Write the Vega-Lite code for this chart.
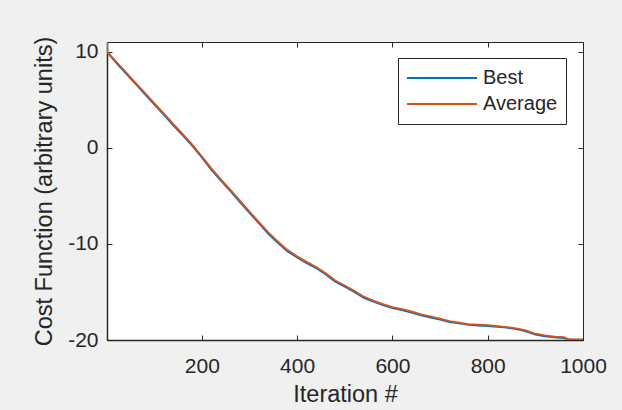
{
  "$schema": "https://vega.github.io/schema/vega-lite/v6.json",
  "width": 476,
  "height": 298,
  "autosize": {"type": "none"},
  "padding": {"left": 107, "top": 42, "right": 39, "bottom": 70},
  "background": "#f0f0f0",
  "data": {
    "values": [
      {"iteration": 1, "series": "Best", "cost": 10.0},
      {"iteration": 2, "series": "Best", "cost": 9.9},
      {"iteration": 20, "series": "Best", "cost": 8.85},
      {"iteration": 40, "series": "Best", "cost": 7.75},
      {"iteration": 60, "series": "Best", "cost": 6.7},
      {"iteration": 80, "series": "Best", "cost": 5.6},
      {"iteration": 100, "series": "Best", "cost": 4.52},
      {"iteration": 120, "series": "Best", "cost": 3.45},
      {"iteration": 140, "series": "Best", "cost": 2.33},
      {"iteration": 160, "series": "Best", "cost": 1.28},
      {"iteration": 180, "series": "Best", "cost": 0.2},
      {"iteration": 200, "series": "Best", "cost": -1.0},
      {"iteration": 220, "series": "Best", "cost": -2.3},
      {"iteration": 240, "series": "Best", "cost": -3.42},
      {"iteration": 260, "series": "Best", "cost": -4.52},
      {"iteration": 280, "series": "Best", "cost": -5.65},
      {"iteration": 300, "series": "Best", "cost": -6.78},
      {"iteration": 320, "series": "Best", "cost": -7.88},
      {"iteration": 340, "series": "Best", "cost": -8.98},
      {"iteration": 360, "series": "Best", "cost": -9.92},
      {"iteration": 380, "series": "Best", "cost": -10.8},
      {"iteration": 400, "series": "Best", "cost": -11.42},
      {"iteration": 420, "series": "Best", "cost": -12.0},
      {"iteration": 440, "series": "Best", "cost": -12.52},
      {"iteration": 460, "series": "Best", "cost": -13.18},
      {"iteration": 480, "series": "Best", "cost": -13.95},
      {"iteration": 500, "series": "Best", "cost": -14.45},
      {"iteration": 520, "series": "Best", "cost": -15.0},
      {"iteration": 540, "series": "Best", "cost": -15.62},
      {"iteration": 560, "series": "Best", "cost": -16.02},
      {"iteration": 580, "series": "Best", "cost": -16.38},
      {"iteration": 600, "series": "Best", "cost": -16.68},
      {"iteration": 620, "series": "Best", "cost": -16.9},
      {"iteration": 640, "series": "Best", "cost": -17.15},
      {"iteration": 660, "series": "Best", "cost": -17.45},
      {"iteration": 680, "series": "Best", "cost": -17.66},
      {"iteration": 700, "series": "Best", "cost": -17.88},
      {"iteration": 720, "series": "Best", "cost": -18.14},
      {"iteration": 740, "series": "Best", "cost": -18.28},
      {"iteration": 760, "series": "Best", "cost": -18.42},
      {"iteration": 780, "series": "Best", "cost": -18.5},
      {"iteration": 800, "series": "Best", "cost": -18.55},
      {"iteration": 820, "series": "Best", "cost": -18.62},
      {"iteration": 840, "series": "Best", "cost": -18.72},
      {"iteration": 860, "series": "Best", "cost": -18.88},
      {"iteration": 880, "series": "Best", "cost": -19.1},
      {"iteration": 900, "series": "Best", "cost": -19.45},
      {"iteration": 920, "series": "Best", "cost": -19.62},
      {"iteration": 940, "series": "Best", "cost": -19.72},
      {"iteration": 960, "series": "Best", "cost": -19.8},
      {"iteration": 970, "series": "Best", "cost": -19.96},
      {"iteration": 980, "series": "Best", "cost": -19.97},
      {"iteration": 1000, "series": "Best", "cost": -19.98},
      {"iteration": 1, "series": "Average", "cost": 11.0},
      {"iteration": 2, "series": "Average", "cost": 9.95},
      {"iteration": 20, "series": "Average", "cost": 8.97},
      {"iteration": 40, "series": "Average", "cost": 7.89},
      {"iteration": 60, "series": "Average", "cost": 6.81},
      {"iteration": 80, "series": "Average", "cost": 5.73},
      {"iteration": 100, "series": "Average", "cost": 4.65},
      {"iteration": 120, "series": "Average", "cost": 3.57},
      {"iteration": 140, "series": "Average", "cost": 2.49},
      {"iteration": 160, "series": "Average", "cost": 1.41},
      {"iteration": 180, "series": "Average", "cost": 0.32},
      {"iteration": 200, "series": "Average", "cost": -0.88},
      {"iteration": 220, "series": "Average", "cost": -2.14},
      {"iteration": 240, "series": "Average", "cost": -3.29},
      {"iteration": 260, "series": "Average", "cost": -4.38},
      {"iteration": 280, "series": "Average", "cost": -5.5},
      {"iteration": 300, "series": "Average", "cost": -6.64},
      {"iteration": 320, "series": "Average", "cost": -7.74},
      {"iteration": 340, "series": "Average", "cost": -8.83},
      {"iteration": 360, "series": "Average", "cost": -9.78},
      {"iteration": 380, "series": "Average", "cost": -10.65},
      {"iteration": 400, "series": "Average", "cost": -11.3},
      {"iteration": 420, "series": "Average", "cost": -11.87},
      {"iteration": 440, "series": "Average", "cost": -12.41},
      {"iteration": 460, "series": "Average", "cost": -13.05},
      {"iteration": 480, "series": "Average", "cost": -13.81},
      {"iteration": 500, "series": "Average", "cost": -14.33},
      {"iteration": 520, "series": "Average", "cost": -14.88},
      {"iteration": 540, "series": "Average", "cost": -15.49},
      {"iteration": 560, "series": "Average", "cost": -15.9},
      {"iteration": 580, "series": "Average", "cost": -16.27},
      {"iteration": 600, "series": "Average", "cost": -16.57},
      {"iteration": 620, "series": "Average", "cost": -16.79},
      {"iteration": 640, "series": "Average", "cost": -17.03},
      {"iteration": 660, "series": "Average", "cost": -17.34},
      {"iteration": 680, "series": "Average", "cost": -17.55},
      {"iteration": 700, "series": "Average", "cost": -17.78},
      {"iteration": 720, "series": "Average", "cost": -18.04},
      {"iteration": 740, "series": "Average", "cost": -18.19},
      {"iteration": 760, "series": "Average", "cost": -18.34},
      {"iteration": 780, "series": "Average", "cost": -18.4},
      {"iteration": 800, "series": "Average", "cost": -18.46},
      {"iteration": 820, "series": "Average", "cost": -18.55},
      {"iteration": 840, "series": "Average", "cost": -18.65},
      {"iteration": 860, "series": "Average", "cost": -18.78},
      {"iteration": 880, "series": "Average", "cost": -18.99},
      {"iteration": 900, "series": "Average", "cost": -19.35},
      {"iteration": 920, "series": "Average", "cost": -19.53},
      {"iteration": 940, "series": "Average", "cost": -19.64},
      {"iteration": 960, "series": "Average", "cost": -19.71},
      {"iteration": 970, "series": "Average", "cost": -19.92},
      {"iteration": 980, "series": "Average", "cost": -19.93},
      {"iteration": 1000, "series": "Average", "cost": -19.95}
    ]
  },
  "layer": [
    {
      "mark": {"type": "line", "strokeWidth": 1.8, "clip": true},
      "encoding": {
        "x": {
          "field": "iteration", "type": "quantitative",
          "scale": {"domain": [1, 1000], "nice": false, "zero": false},
          "axis": {"orient": "bottom", "values": [200, 400, 600, 800, 1000], "labelExpr": "datum.value + ''", "labelFlush": false, "labelOverlap": false, "title": "Iteration #", "labelPadding": 20, "titlePadding": 6}
        },
        "y": {
          "field": "cost", "type": "quantitative",
          "scale": {"domain": [-20, 11], "nice": false, "zero": false},
          "axis": {"orient": "left", "values": [-20, -10, 0, 10], "labelExpr": "datum.value + ''", "labelFlush": false, "labelOverlap": false, "title": "Cost Function (arbitrary units)", "labelPadding": 14, "titlePadding": 11}
        },
        "color": {
          "field": "series", "type": "nominal",
          "scale": {"domain": ["Best", "Average"], "range": ["#0072BD", "#D95319"]},
          "legend": {
            "title": null, "orient": "none", "legendX": 291, "legendY": 16,
            "strokeColor": "#262626", "fillColor": "white", "padding": 8,
            "symbolType": "stroke", "symbolSize": 4900, "symbolStrokeWidth": 2,
            "clipHeight": 24, "rowPadding": 2, "labelFontSize": 20, "labelOffset": 5,
            "labelColor": "#262626", "labelFont": "Liberation Sans"
          }
        },
        "order": {"field": "iteration", "type": "quantitative"}
      }
    },
    {
      "mark": {"type": "line", "opacity": 0},
      "encoding": {
        "x": {"field": "iteration", "type": "quantitative", "axis": {"orient": "top", "values": [200, 400, 600, 800, 1000], "labels": false, "title": null, "domain": false}},
        "y": {"field": "cost", "type": "quantitative", "axis": {"orient": "right", "values": [-20, -10, 0, 10], "labels": false, "title": null, "domain": false}},
        "detail": {"field": "series"}
      }
    }
  ],
  "resolve": {"axis": {"x": "independent", "y": "independent"}},
  "config": {
    "font": "Liberation Sans",
    "view": {"fill": "white", "stroke": "#262626", "strokeWidth": 1},
    "axis": {
      "grid": false,
      "tickSize": -5,
      "tickColor": "#262626",
      "tickWidth": 1,
      "domainColor": "#262626",
      "domainWidth": 1.5,
      "labelFont": "Liberation Sans",
      "labelFontSize": 21,
      "labelColor": "#262626",
      "titleFont": "Liberation Sans",
      "titleFontSize": 23.5,
      "titleFontWeight": "normal",
      "titleColor": "#262626"
    }
  }
}
